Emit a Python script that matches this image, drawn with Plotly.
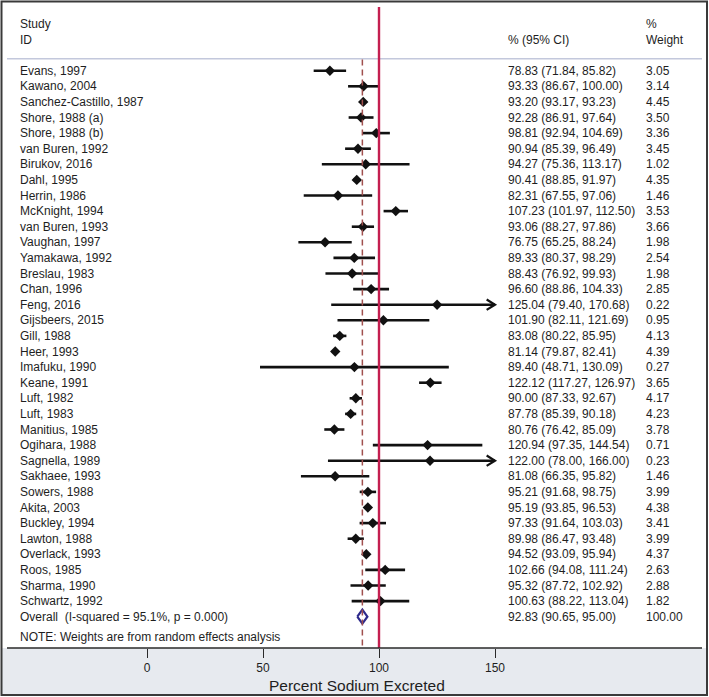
import plotly.graph_objects as go

# ---------------- data ----------------
studies = ["Evans, 1997", "Kawano, 2004", "Sanchez-Castillo, 1987", "Shore, 1988 (a)",
           "Shore, 1988 (b)", "van Buren, 1992", "Birukov, 2016", "Dahl, 1995",
           "Herrin, 1986", "McKnight, 1994", "van Buren, 1993", "Vaughan, 1997",
           "Yamakawa, 1992", "Breslau, 1983", "Chan, 1996", "Feng, 2016",
           "Gijsbeers, 2015", "Gill, 1988", "Heer, 1993", "Imafuku, 1990",
           "Keane, 1991", "Luft, 1982", "Luft, 1983", "Manitius, 1985",
           "Ogihara, 1988", "Sagnella, 1989", "Sakhaee, 1993", "Sowers, 1988",
           "Akita, 2003", "Buckley, 1994", "Lawton, 1988", "Overlack, 1993",
           "Roos, 1985", "Sharma, 1990", "Schwartz, 1992"]
est = [78.83, 93.33, 93.20, 92.28, 98.81, 90.94, 94.27, 90.41, 82.31, 107.23,
       93.06, 76.75, 89.33, 88.43, 96.60, 125.04, 101.90, 83.08, 81.14, 89.40,
       122.12, 90.00, 87.78, 80.76, 120.94, 122.00, 81.08, 95.21, 95.19, 97.33,
       89.98, 94.52, 102.66, 95.32, 100.63]
lo = [71.84, 86.67, 93.17, 86.91, 92.94, 85.39, 75.36, 88.85, 67.55, 101.97,
      88.27, 65.25, 80.37, 76.92, 88.86, 79.40, 82.11, 80.22, 79.87, 48.71,
      117.27, 87.33, 85.39, 76.42, 97.35, 78.00, 66.35, 91.68, 93.85, 91.64,
      86.47, 93.09, 94.08, 87.72, 88.22]
hi = [85.82, 100.00, 93.23, 97.64, 104.69, 96.49, 113.17, 91.97, 97.06, 112.50,
      97.86, 88.24, 98.29, 99.93, 104.33, 170.68, 121.69, 85.95, 82.41, 130.09,
      126.97, 92.67, 90.18, 85.09, 144.54, 166.00, 95.82, 98.75, 96.53, 103.03,
      93.48, 95.94, 111.24, 102.92, 113.04]
weights = [3.05, 3.14, 4.45, 3.50, 3.36, 3.45, 1.02, 4.35, 1.46, 3.53, 3.66, 1.98,
           2.54, 1.98, 2.85, 0.22, 0.95, 4.13, 4.39, 0.27, 3.65, 4.17, 4.23, 3.78,
           0.71, 0.23, 1.46, 3.99, 4.38, 3.41, 3.99, 4.37, 2.63, 2.88, 1.82]
overall_label = "Overall\u00a0 (I-squared = 95.1%, p = 0.000)"
overall_est, overall_lo, overall_hi, overall_w = 92.83, 90.65, 95.00, 100.00
null_value = 100
x_clip = 150
tick_vals = [0, 50, 100, 150]
tick_text = ["0", "50", "100", "150"]
x_title = "Percent Sodium Excreted"
note = "NOTE: Weights are from random effects analysis"

# ---------------- layout helpers ----------------
W, H = 709, 697
PLOT_H = 648          # plot area height in px (axis line at bottom)
ROW0, ROWH = 70.7, 15.6


def px_x(p):
    return p / W


def px_y(p):
    return 1 - p / PLOT_H


def row_of_px(p):
    return (p - ROW0) / ROWH


X_LEFT = -147 / 2.32
X_RIGHT = (W - 147) / 2.32
Y_TOP = row_of_px(0)
Y_BOT = row_of_px(PLOT_H)

FONT = "Liberation Sans, Arial, Helvetica, sans-serif"
TXT = "#1e1e1e"

n = len(studies)
rows = list(range(n))
overall_row = n

fig = go.Figure()

# CI lines
cx, cy = [], []
for i in rows:
    cx += [lo[i], min(hi[i], x_clip), None]
    cy += [i, i, None]
fig.add_trace(go.Scatter(x=cx, y=cy, mode="lines",
                         line=dict(color="#111111", width=2.6),
                         hoverinfo="skip", showlegend=False))

# arrows for clipped CIs
ax_, ay_ = [], []
for i in rows:
    if hi[i] > x_clip:
        ax_ += [x_clip - 3.6, x_clip, x_clip - 3.6, None]
        ay_ += [i - 0.33, i, i + 0.33, None]
fig.add_trace(go.Scatter(x=ax_, y=ay_, mode="lines",
                         line=dict(color="#111111", width=2.2),
                         hoverinfo="skip", showlegend=False))

# point estimates
fig.add_trace(go.Scatter(x=est, y=rows, mode="markers",
                         marker=dict(symbol="diamond", size=8, color="#111111",
                                     line=dict(width=0)),
                         showlegend=False))

# overall diamond (hollow)
dh = 0.45
fig.add_trace(go.Scatter(
    x=[overall_lo, overall_est, overall_hi, overall_est, overall_lo],
    y=[overall_row, overall_row - dh, overall_row, overall_row + dh, overall_row],
    mode="lines", line=dict(color="#2e2a8c", width=2.2),
    hoverinfo="skip", showlegend=False))

shapes = []
# bottom grey panel
shapes.append(dict(type="rect", xref="paper", yref="paper",
                   x0=px_x(2), x1=px_x(707), y0=px_y(694), y1=px_y(PLOT_H),
                   fillcolor="#e7eaef", line=dict(width=0), layer="below"))
# header separator
shapes.append(dict(type="line", xref="paper", yref="paper",
                   x0=px_x(7), x1=px_x(702), y0=px_y(58.7), y1=px_y(58.7),
                   line=dict(color="#c3c8dc", width=1.5)))
# dashed overall line
shapes.append(dict(type="line", xref="x", yref="paper",
                   x0=overall_est, x1=overall_est, y0=px_y(59.5), y1=px_y(PLOT_H),
                   line=dict(color="#a0504e", width=1.5, dash="6px,4px")))
# null line
shapes.append(dict(type="line", xref="x", yref="paper",
                   x0=null_value, x1=null_value, y0=px_y(7), y1=px_y(PLOT_H),
                   line=dict(color="#c41f50", width=2.4)))
# axis line
shapes.append(dict(type="line", xref="paper", yref="paper",
                   x0=px_x(7), x1=px_x(702), y0=px_y(PLOT_H), y1=px_y(PLOT_H),
                   line=dict(color="#2a2a2a", width=1.6)))
# outer frame
shapes.append(dict(type="rect", xref="paper", yref="paper",
                   x0=px_x(1.5), x1=px_x(707), y0=px_y(695), y1=px_y(1.5),
                   line=dict(color="#3a3a3a", width=2), layer="above"))

ann = []


def text(xpx, y, s, size=12, yref="y", xanchor="left"):
    ann.append(dict(x=px_x(xpx), y=y, xref="paper", yref=yref, text=s,
                    showarrow=False, xanchor=xanchor, yanchor="middle",
                    font=dict(family=FONT, size=size, color=TXT)))


# headers
text(18, row_of_px(24), "Study")
text(18, row_of_px(39.5), "ID")
text(506, row_of_px(39.5), "% (95% CI)")
text(644, row_of_px(24), "%")
text(644, row_of_px(39.5), "Weight")

for i in rows:
    text(18, i, studies[i])
    text(506, i, f"{est[i]:.2f} ({lo[i]:.2f}, {hi[i]:.2f})")
    text(644, i, f"{weights[i]:.2f}")

text(18, overall_row, overall_label)
text(506, overall_row, f"{overall_est:.2f} ({overall_lo:.2f}, {overall_hi:.2f})")
text(644, overall_row, f"{overall_w:.2f}")
text(18, row_of_px(637), note)

# axis title
ann.append(dict(x=px_x(357), y=px_y(685), xref="paper", yref="paper", text=x_title,
                showarrow=False, xanchor="center", yanchor="middle",
                font=dict(family=FONT, size=15.5, color=TXT)))

fig.update_layout(
    width=W, height=H,
    margin=dict(l=0, r=0, t=0, b=H - PLOT_H, pad=0),
    paper_bgcolor="white", plot_bgcolor="white",
    shapes=shapes, annotations=ann,
    showlegend=False,
    xaxis=dict(range=[X_LEFT, X_RIGHT], tickvals=tick_vals, ticktext=tick_text,
               ticks="outside", ticklen=9, tickwidth=1.4, tickcolor="#2a2a2a",
               showgrid=False, zeroline=False, showline=False,
               tickfont=dict(family=FONT, size=12, color=TXT), fixedrange=True),
    yaxis=dict(range=[Y_BOT, Y_TOP], visible=False, showgrid=False,
               zeroline=False, fixedrange=True),
)

fig.write_html(
    "out.html",
    config={"displayModeBar": False},
    post_script="document.body.style.margin='0';document.body.style.padding='0';"
                "document.body.style.overflow='hidden';",
)
